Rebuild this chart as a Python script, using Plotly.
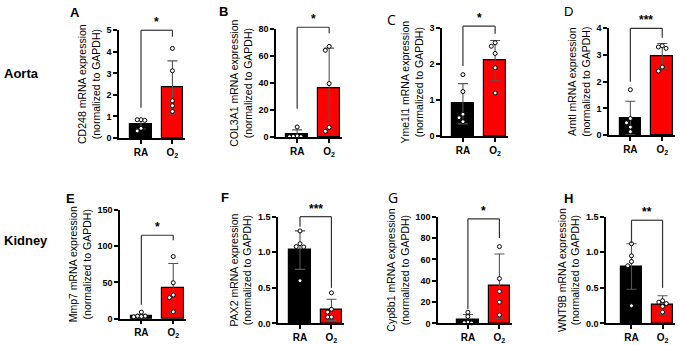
import plotly.graph_objects as go

# ---------------- data ----------------
groups = ["RA", "O<sub>2</sub>"]
letters = ["A", "B", "C", "D", "E", "F", "G", "H"]
genes = ["CD248", "COL3A1", "Yme1l1", "Arntl", "Mmp7", "PAX2", "Cyp8b1", "WNT9B"]
row_labels = ["Aorta", "Kidney"]

ra_points = [
    [0.85, 0.85, 0.82, 0.45, 0.33],
    [7.5, 0.8, 0.5, 0.3, 0.2],
    [1.71, 1.24, 0.61, 0.51, 0.40],
    [1.70, 0.62, 0.46, 0.30, 0.13],
    [9.0, 3.5, 3.5, 3.0, 2.5],
    [1.30, 1.12, 1.08, 1.075, 0.60],
    [10.5, 6.5, 1.2, 0.8, 0.5],
    [1.12, 0.95, 0.87, 0.81, 0.25],
]
o2_points = [
    [4.16, 3.12, 1.73, 1.50, 1.23],
    [67.3, 64.4, 39.7, 7.2, 4.3],
    [2.60, 2.50, 2.30, 1.90, 1.20],
    [3.35, 3.30, 3.25, 2.55, 2.40],
    [85.7, 49.5, 32.6, 29.0, 9.4],
    [0.43, 0.20, 0.16, 0.09, 0.09],
    [72, 42, 30, 20, 8],
    [0.32, 0.30, 0.28, 0.24, 0.16],
]
ra_mean = [0.62, 1.8, 0.90, 0.64, 3.6, 1.03, 3.9, 0.80]
o2_mean = [2.35, 36.0, 2.10, 2.97, 42.0, 0.19, 35.0, 0.26]
ra_sd = [0.20, 3.5, 0.56, 0.63, 2.5, 0.27, 4.5, 0.32]
o2_sd = [1.23, 30.0, 0.56, 0.46, 34.0, 0.15, 30.0, 0.13]
# significance brackets: top level, left leg end, right leg end
br_top = [5.0, 81.5, 3.06, 4.0, 115, 1.5, 98, 1.45]
br_left = [1.4, 21, 1.95, 2.0, 19, 1.36, 13.5, 1.13]
br_right = [4.7, 77, 2.85, 3.65, 108, 0.5, 80, 0.5]
stars = ["*", "*", "*", "***", "*", "***", "*", "**"]
y_max = [5, 80, 3, 4, 150, 1.5, 100, 1.5]
y_dtick = [1, 20, 1, 1, 50, 0.5, 20, 0.5]
y_fmt = ["d", "d", "d", "d", "d", ".1f", "d", ".1f"]

# ---------------- layout geometry (pixels) ----------------
W, H = 685, 345
geom = [  # x0, x1, ytop, ybot, xr0, xr1
    (119, 185, 26, 137, -0.70, 1.40),
    (276, 342, 25, 136, -0.66, 1.40),
    (442, 508, 24, 135, -0.65, 1.40),
    (609, 675, 24, 134, -0.67, 1.40),
    (120, 186, 211, 323, -0.67, 1.40),
    (278, 344, 218, 328, -0.70, 1.40),
    (438, 512, 218, 328, -0.95, 1.40),
    (606, 675, 218, 328, -0.82, 1.40),
]
letter_pos = [(75, 8), (223, 7), (392, 15), (568, 7), (70, 199), (225, 198), (393, 198), (568, 199)]
letter_font = ["b", "b", "o", "r", "b", "b", "o", "b"]

FONT = "Liberation Sans, Arial, sans-serif"
fig = go.Figure()
layout = dict(width=W, height=H, margin=dict(l=0, r=0, t=0, b=0),
              paper_bgcolor="white", plot_bgcolor="white", showlegend=False)
shapes, annotations = [], []


def swarm(vals, thr):
    placed = []
    xs = [0.0] * len(vals)
    order = sorted(range(len(vals)), key=lambda i: -vals[i])
    cands = [0, -0.12, 0.12, -0.24, 0.24, -0.3, 0.3]
    for i in order:
        for c in cands:
            if all(not (abs(vals[i] - v) < thr and abs(c - o) < 0.11) for v, o in placed):
                xs[i] = c
                break
        placed.append((vals[i], xs[i]))
    return xs


for k in range(8):
    x0, x1, yt, yb, xr0, xr1 = geom[k]
    sfx = "" if k == 0 else str(k + 1)
    xa, ya = "x" + sfx, "y" + sfx
    layout["xaxis" + sfx] = dict(
        domain=[x0 / W, x1 / W], range=[xr0, xr1], anchor=ya,
        showline=True, linecolor="black", linewidth=1.5, mirror=False,
        ticks="outside", ticklen=4, tickwidth=1.5, tickcolor="black",
        tickvals=[0, 1], ticktext=groups, showgrid=False, zeroline=False,
        tickfont=dict(family=FONT, size=10, color="black", weight="bold"), fixedrange=True)
    layout["yaxis" + sfx] = dict(
        domain=[1 - yb / H, 1 - yt / H], range=[0, y_max[k]], anchor=xa,
        showline=True, linecolor="black", linewidth=1.5,
        ticks="outside", ticklen=4, tickwidth=1.5, tickcolor="black",
        dtick=y_dtick[k], tick0=0, tickformat=y_fmt[k], showgrid=False, zeroline=False,
        tickfont=dict(family=FONT, size=9, color="black", weight="bold"),
        title=dict(text=f"{genes[k]} mRNA expression<br>(normalized to GAPDH)",
                   font=dict(family=FONT, size=10.5, color="black"), standoff=4),
        fixedrange=True)

    fig.add_trace(go.Bar(
        x=[0, 1], y=[ra_mean[k], o2_mean[k]], width=0.68,
        marker=dict(color=["black", "#ff0000"], line=dict(color="black", width=1.2)),
        error_y=dict(type="data", array=[ra_sd[k], o2_sd[k]], color="#555555",
                     thickness=1.1, width=5),
        xaxis=xa, yaxis=ya))
    thr = y_max[k] * 0.04
    for gx, pts in ((0, ra_points[k]), (1, o2_points[k])):
        offs = swarm(pts, thr)
        fig.add_trace(go.Scatter(
            x=[gx + o for o in offs], y=pts, mode="markers",
            marker=dict(symbol="circle", size=4, color="white",
                        line=dict(color="black", width=1)),
            cliponaxis=False, xaxis=xa, yaxis=ya))

    # bracket in axis-domain coordinates (derived from the axis ranges)
    def fx(v):
        return (v - xr0) / (xr1 - xr0)

    def fy(v):
        return v / y_max[k]

    xd, yd = xa + " domain", ya + " domain"
    line = dict(color="#333333", width=1.2)
    shapes.append(dict(type="line", xref=xd, yref=yd, x0=fx(0), x1=fx(1),
                       y0=fy(br_top[k]), y1=fy(br_top[k]), line=line))
    shapes.append(dict(type="line", xref=xd, yref=yd, x0=fx(0), x1=fx(0),
                       y0=fy(br_left[k]), y1=fy(br_top[k]), line=line))
    shapes.append(dict(type="line", xref=xd, yref=yd, x0=fx(1), x1=fx(1),
                       y0=fy(br_right[k]), y1=fy(br_top[k]), line=line))
    annotations.append(dict(xref=xd, yref=yd, x=fx(0.5), y=fy(br_top[k]),
                            text=stars[k], showarrow=False, yanchor="bottom",
                            yshift=-1, font=dict(family=FONT, size=12, color="black", weight="bold")))

    lx, ly = letter_pos[k]
    if letter_font[k] == "o":
        lf = dict(family="Open Sans, sans-serif", size=14, color="black")
    elif letter_font[k] == "r":
        lf = dict(family=FONT, size=13, color="black")
    else:
        lf = dict(family=FONT, size=13, color="black", weight="bold")
    annotations.append(dict(xref="paper", yref="paper", x=lx / W, y=1 - ly / H,
                            text=letters[k], showarrow=False, xanchor="center",
                            yanchor="middle", font=lf))

for i, (lab, py) in enumerate(zip(row_labels, [71, 243])):
    annotations.append(dict(xref="paper", yref="paper", x=2 / W, y=1 - py / H,
                            text=lab, showarrow=False, xanchor="left", yanchor="middle",
                            font=dict(family=FONT, size=13, color="black", weight="bold")))

layout["shapes"] = shapes
layout["annotations"] = annotations
layout["bargap"] = 0
fig.update_layout(**layout)
fig.write_html("out.html", config={"displayModeBar": False},
               post_script="document.body.style.margin='0';document.body.style.padding='0';")
